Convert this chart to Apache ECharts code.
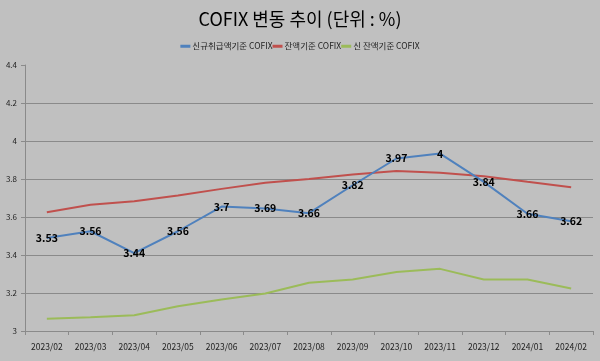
<!DOCTYPE html>
<html>
<head>
<meta charset="utf-8">
<script src="https://cdn.jsdelivr.net/npm/echarts@6/dist/echarts.min.js"></script>
<style>
html,body{margin:0;padding:0;background:#c0c0c0;}
#c{width:600px;height:361px;}
</style>
</head>
<body>
<div id="c"></div>
<script>
const categories = ['2023/02','2023/03','2023/04','2023/05','2023/06','2023/07','2023/08','2023/09','2023/10','2023/11','2023/12','2024/01','2024/02'];
const seriesNames = ['신규취급액기준 COFIX','잔액기준 COFIX','신 잔액기준 COFIX'];
const newCofix = [3.49, 3.525, 3.41, 3.525, 3.655, 3.645, 3.62, 3.767, 3.908, 3.934, 3.785, 3.617, 3.578];
const newCofixLabels = ['3.53','3.56','3.44','3.56','3.7','3.69','3.66','3.82','3.97','4','3.84','3.66','3.62'];
const balanceCofix = [3.625, 3.664, 3.683, 3.713, 3.748, 3.78, 3.80, 3.824, 3.842, 3.833, 3.815, 3.785, 3.757];
const newBalanceCofix = [3.064, 3.073, 3.083, 3.13, 3.166, 3.197, 3.254, 3.271, 3.31, 3.327, 3.271, 3.271, 3.224];
const yTicks = [3, 3.2, 3.4, 3.6, 3.8, 4, 4.2, 4.4];

const chart = echarts.init(document.getElementById('c'));
const font = '"Noto Sans CJK KR", "Noto Sans", sans-serif';
chart.setOption({
  backgroundColor: '#c0c0c0',
  textStyle: {fontFamily: font},
  title: {
    text: 'COFIX 변동 추이 (단위 : %)',
    left: 'center', top: 5,
    textStyle: {fontSize: 18, fontWeight: 'normal', color: '#000', fontFamily: font}
  },
  legend: {
    top: 37, left: 'center',
    itemWidth: 10, itemHeight: 3, itemGap: 0,
    icon: 'rect',
    textStyle: {fontSize: 8.5, color: '#222', padding: [0,0,0,-3]},
    data: seriesNames
  },
  grid: {left: 25, right: 7, top: 65, bottom: 30, containLabel: false},
  xAxis: {
    type: 'category', data: categories, boundaryGap: true,
    axisLine: {lineStyle: {color: '#8a8a8a', width: 1}},
    axisTick: {show: true, alignWithLabel: false, length: 4, lineStyle: {color: '#8a8a8a'}},
    axisLabel: {fontSize: 8.5, color: '#222', margin: 12, interval: 0}
  },
  yAxis: {
    type: 'value', min: 3, max: 4.4, interval: 0.2,
    axisLine: {show: true, lineStyle: {color: '#8a8a8a'}},
    axisTick: {show: true, length: 4, lineStyle: {color: '#8a8a8a'}},
    axisLabel: {fontSize: 8, color: '#222', margin: 8,
      formatter: v => { const t = yTicks.find(x => Math.abs(x - v) < 1e-6); return t === undefined ? '' : String(t); }},
    splitLine: {show: true, showMaxLine: false, showMinLine: false, lineStyle: {color: '#8a8a8a', width: 1}}
  },
  series: [
    {
      name: seriesNames[0], type: 'line', data: newCofix,
      symbol: 'circle', symbolSize: 0, showSymbol: true,
      lineStyle: {color: '#4f81bd', width: 2}, itemStyle: {color: '#4f81bd'},
      label: {show: true, position: 'inside', fontSize: 10.5, fontWeight: 'bold', color: '#000',
        formatter: p => newCofixLabels[p.dataIndex]},
      z: 3
    },
    {
      name: seriesNames[1], type: 'line', data: balanceCofix,
      symbol: 'none', lineStyle: {color: '#c0504d', width: 2}, itemStyle: {color: '#c0504d'}, z: 2
    },
    {
      name: seriesNames[2], type: 'line', data: newBalanceCofix,
      symbol: 'none', lineStyle: {color: '#9bbb59', width: 2}, itemStyle: {color: '#9bbb59'}, z: 2
    }
  ],
  animation: false
});
</script>
</body>
</html>
